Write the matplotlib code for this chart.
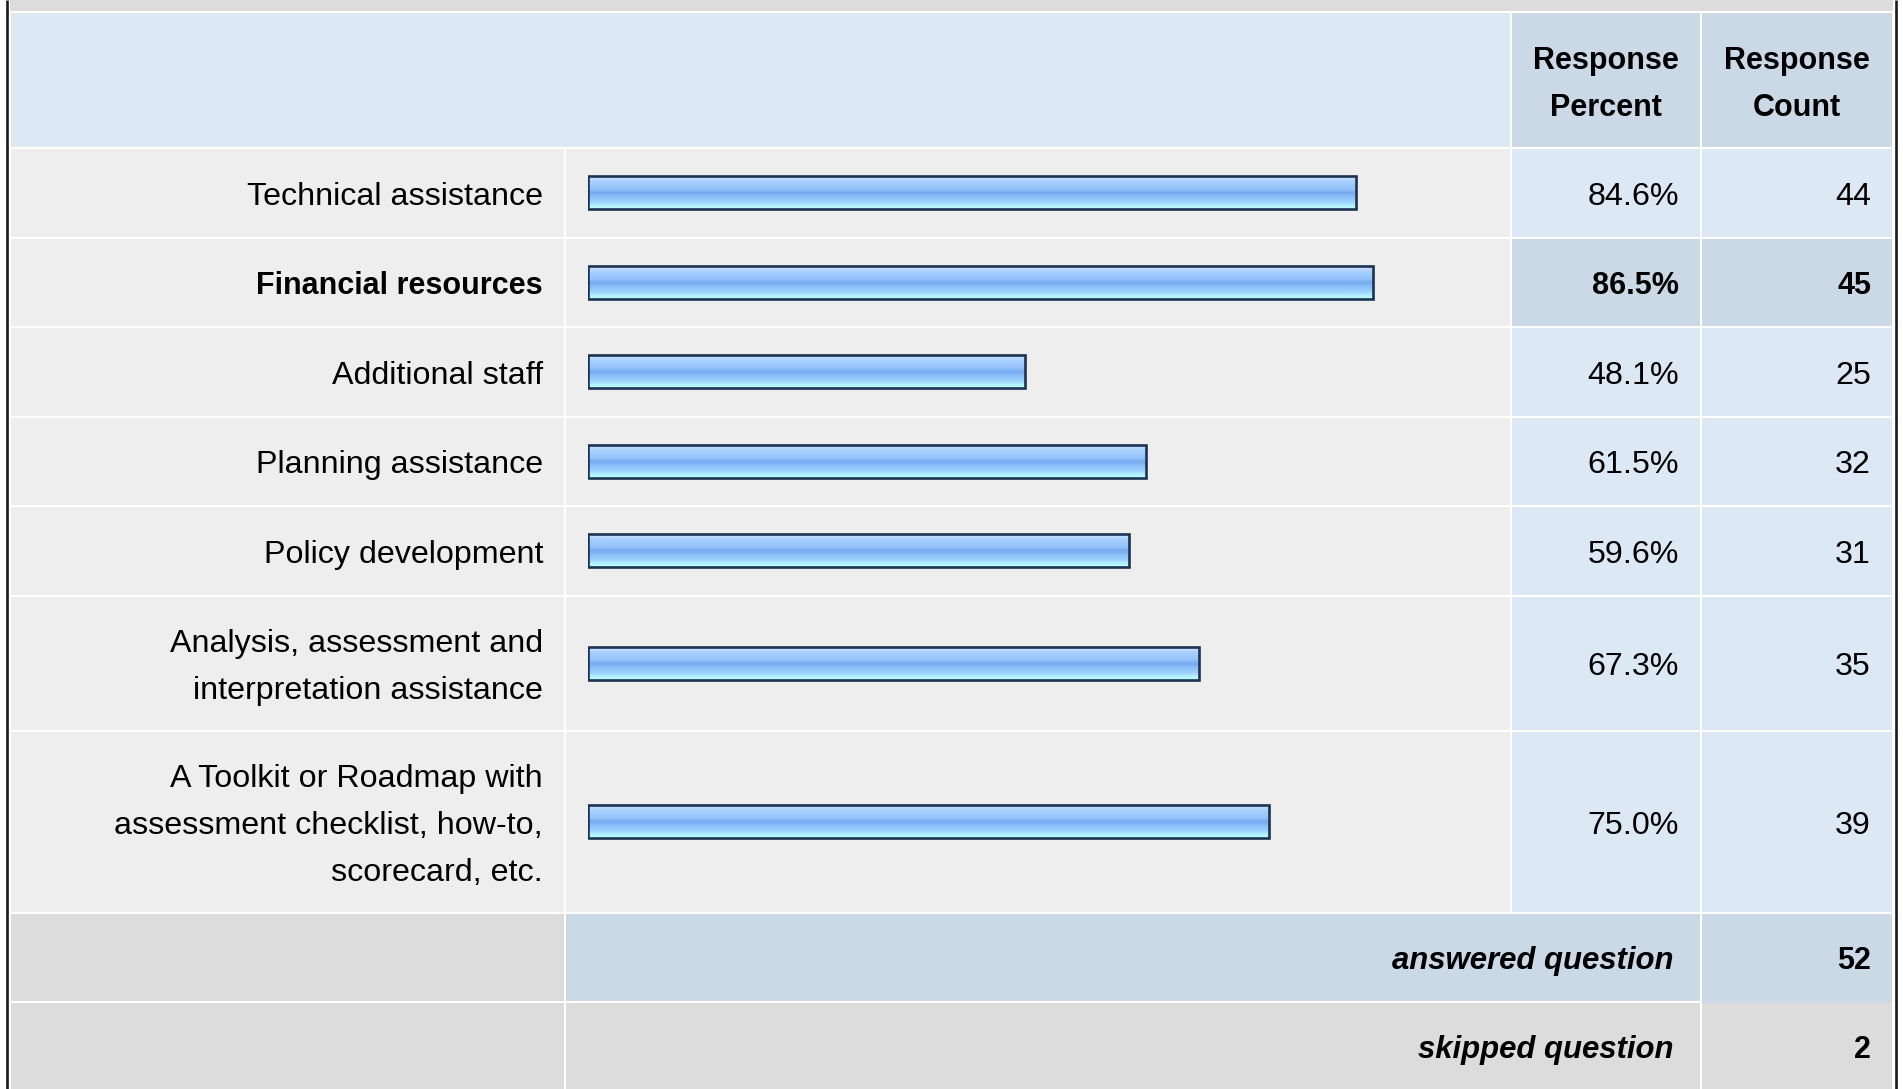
import numpy as np
import matplotlib.pyplot as plt
from matplotlib.colors import LinearSegmentedColormap

# data
labels = [
    ["Technical assistance"],
    ["Financial resources"],
    ["Additional staff"],
    ["Planning assistance"],
    ["Policy development"],
    ["Analysis, assessment and", "interpretation assistance"],
    ["A Toolkit or Roadmap with", "assessment checklist, how-to,", "scorecard, etc."],
]
percents = [84.6, 86.5, 48.1, 61.5, 59.6, 67.3, 75.0]
counts = [44, 45, 25, 32, 31, 35, 39]
answered = 52
skipped = 2
highlight = 1  # bold row

# colours
c_gray = '#dcdcdc'
c_cell = '#eeeeee'
c_blue = '#dde8f5'
c_blue2 = '#cbd8e6'
bar_edge = '#1c3352'
grad = LinearSegmentedColormap.from_list('bar', [
    (0.0, '#d2e6ff'), (0.15, '#a9d0ff'), (0.40, '#93c2fb'), (0.50, '#74a9ee'),
    (0.62, '#8abef8'), (0.80, '#9fd3ff'), (0.90, '#b3f2ff'), (1.0, '#bcffff')])

W, H = 1903, 1089
fig = plt.figure(figsize=(W / 100, H / 100), dpi=100)
fig.patch.set_facecolor('white')
ax = fig.add_axes([0, 0, 1, 1])
ax.set_xlim(0, W)
ax.set_ylim(H, 0)
ax.axis('off')

font = 'Liberation Sans'
fs_norm = 23.2
fs_bold = 22
cap = 12   # half cap height in px
lh = 47    # line spacing in px

cols = [11, 565, 1511, 1701, 1892]
bar_x0, bar_x1 = 588, 1496


def cell(x0, x1, y0, y1, color):
    ax.add_patch(plt.Rectangle((x0 + 1, y0 + 1), x1 - x0 - 2, y1 - y0 - 2,
                               facecolor=color, edgecolor='none', zorder=1))


def lines(x, yc, txt, ha='right', weight='normal', fs=None, **kw):
    if fs is None:
        fs = fs_bold if weight == 'bold' else fs_norm
    n = len(txt)
    for i, t in enumerate(txt):
        yb = yc + cap + (i - (n - 1) / 2) * lh
        ax.text(x, yb, t, ha=ha, va='baseline', fontsize=fs, family=font,
                color='black', weight=weight, zorder=5, **kw)


# top strip + header
cell(cols[0] - 2, cols[-1] + 2, -10, 12, c_gray)
hy0, hy1 = 12, 148
cell(cols[0] - 1, cols[2], hy0, hy1, c_blue)
cell(cols[2], cols[3], hy0, hy1, c_blue2)
cell(cols[3], cols[4] + 1, hy0, hy1, c_blue2)
lines((cols[2] + cols[3]) / 2, (hy0 + hy1) / 2 + 1, ["Response", "Percent"], ha='center', weight='bold')
lines((cols[3] + cols[4]) / 2, (hy0 + hy1) / 2 + 1, ["Response", "Count"], ha='center', weight='bold')

# data rows
y = hy1
centers = []
for i, lab in enumerate(labels):
    h = 89.5 + 46 * (len(lab) - 1)
    y0, y1 = y, y + h
    yc = (y0 + y1) / 2
    centers.append(yc)
    hl = (i == highlight)
    cell(cols[0] - 1, cols[1], y0, y1, c_cell)
    cell(cols[1], cols[2], y0, y1, c_cell)
    cell(cols[2], cols[3], y0, y1, c_blue2 if hl else c_blue)
    cell(cols[3], cols[4] + 1, y0, y1, c_blue2 if hl else c_blue)
    w = 'bold' if hl else 'normal'
    lines(cols[1] - 22, yc, lab, weight=w)
    lines(cols[3] - 22, yc, [f"{percents[i]:.1f}%"], weight=w)
    lines(cols[4] - 21, yc, [str(counts[i])], weight=w)
    y = y1

# answered / skipped
for txt, val, mid in [("answered question", answered, c_blue2), ("skipped question", skipped, c_gray)]:
    y0, y1 = y, y + 89
    yc = (y0 + y1) / 2
    cell(cols[0] - 1, cols[1], y0, y1, c_gray)
    cell(cols[1], cols[3], y0, y1, mid)
    cell(cols[3], cols[4] + 1, y0, y1 + 5, mid)
    lines(cols[3] - 28, yc, [txt], weight='bold', style='italic', fs=22.4)
    lines(cols[4] - 21, yc, [str(val)], weight='bold')
    y = y1

# outer border
ax.plot([7, 7], [0, H], color='#1a1a1a', lw=1.9, zorder=6, solid_capstyle='butt')
ax.plot([1895.5, 1895.5], [0, H], color='#1a1a1a', lw=1.9, zorder=6, solid_capstyle='butt')

# bars
bax = fig.add_axes([bar_x0 / W, 0, (bar_x1 - bar_x0) / W, 1])
bax.patch.set_alpha(0)
bax.axis('off')
bars = bax.barh(centers, percents, height=33, color='none', edgecolor=bar_edge,
                linewidth=1.9, zorder=4)
g = np.linspace(0, 1, 64).reshape(-1, 1)
for b, yc, p in zip(bars, centers, percents):
    im = bax.imshow(g, cmap=grad, extent=[0, p, yc + 16.5, yc - 16.5],
                    aspect='auto', interpolation='bilinear', zorder=3)
    im.set_clip_path(b)
bax.set_xlim(0, 100)
bax.set_ylim(H, 0)

fig.savefig('out.png', dpi=100, facecolor='white')
